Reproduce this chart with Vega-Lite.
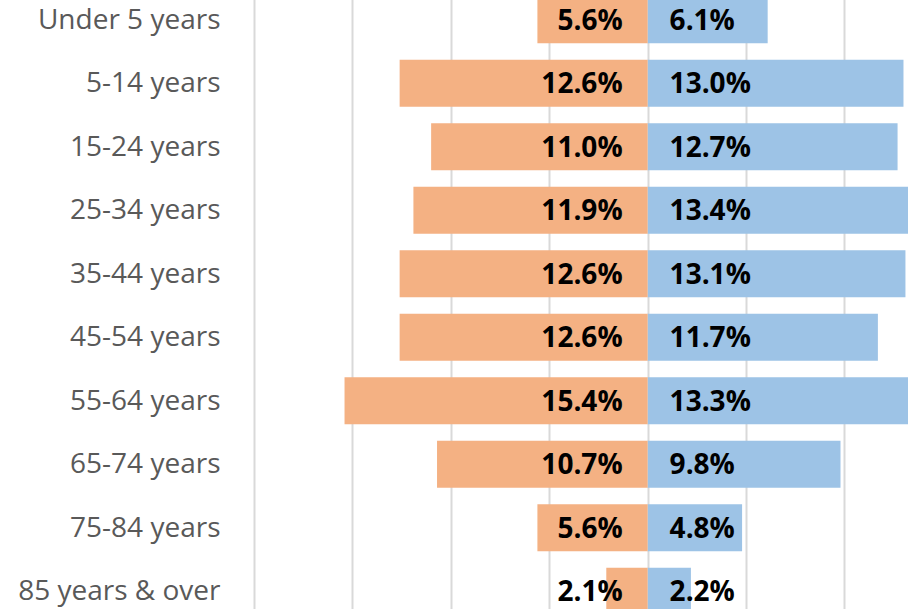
{
  "$schema": "https://vega.github.io/schema/vega-lite/v6.json",
  "width": 654,
  "height": 635,
  "autosize": {"type": "none"},
  "padding": {"left": 254, "top": -12, "right": 0, "bottom": -14},
  "background": "white",
  "config": {"view": {"stroke": null}},
  "data": {
    "values": [
      {"age": "Under 5 years", "female": 0.056, "male": 0.061},
      {"age": "5-14 years", "female": 0.126, "male": 0.130},
      {"age": "15-24 years", "female": 0.110, "male": 0.127},
      {"age": "25-34 years", "female": 0.119, "male": 0.134},
      {"age": "35-44 years", "female": 0.126, "male": 0.131},
      {"age": "45-54 years", "female": 0.126, "male": 0.117},
      {"age": "55-64 years", "female": 0.154, "male": 0.133},
      {"age": "65-74 years", "female": 0.107, "male": 0.098},
      {"age": "75-84 years", "female": 0.056, "male": 0.048},
      {"age": "85 years & over", "female": 0.021, "male": 0.022}
    ]
  },
  "encoding": {
    "y": {
      "field": "age",
      "type": "nominal",
      "sort": null,
      "scale": {"paddingInner": 0.26, "paddingOuter": 0.13},
      "axis": {
        "title": null,
        "domain": false,
        "ticks": false,
        "labelPadding": 34,
        "labelLimit": 0,
        "labelOffset": 1,
        "labelFont": "Open Sans",
        "labelFontSize": 28,
        "labelColor": "#595959",
        "labelAlign": "right",
        "labelBaseline": "middle"
      }
    }
  },
  "layer": [
    {
      "mark": {"type": "bar", "color": "#9DC3E6"},
      "encoding": {
        "x": {
          "field": "male",
          "type": "quantitative",
          "scale": {"domain": [-0.2, 0.1323], "nice": false},
          "axis": {
            "title": null,
            "values": [-0.2, -0.15, -0.1, -0.05, 0, 0.05, 0.1],
            "labels": false,
            "ticks": false,
            "domain": false,
            "grid": true,
            "gridColor": "#d9d9d9",
            "gridWidth": 2
          }
        }
      }
    },
    {
      "mark": {"type": "bar", "color": "#F4B183"},
      "encoding": {
        "x": {
          "field": "female",
          "type": "quantitative",
          "scale": {"domain": [-0.1323, 0.2], "reverse": true, "nice": false},
          "axis": null
        }
      }
    },
    {
      "mark": {"type": "rule", "color": "#d9d9d9", "strokeWidth": 2.5},
      "encoding": {
        "x": {"datum": 0, "type": "quantitative", "scale": {"domain": [-0.2, 0.1323], "nice": false}, "axis": null}
      }
    },
    {
      "mark": {"type": "text", "align": "right", "baseline": "middle", "dx": -25, "dy": 2, "font": "Open Sans", "fontSize": 28, "fontWeight": "bold", "color": "#000000"},
      "encoding": {
        "x": {"datum": 0, "type": "quantitative", "scale": {"domain": [-0.2, 0.1323], "nice": false}, "axis": null},
        "text": {"field": "female", "type": "quantitative", "format": ".1%"}
      }
    },
    {
      "mark": {"type": "text", "align": "left", "baseline": "middle", "dx": 22, "dy": 2, "font": "Open Sans", "fontSize": 28, "fontWeight": "bold", "color": "#000000"},
      "encoding": {
        "x": {"datum": 0, "type": "quantitative", "scale": {"domain": [-0.2, 0.1323], "nice": false}, "axis": null},
        "text": {"field": "male", "type": "quantitative", "format": ".1%"}
      }
    }
  ],
  "resolve": {"scale": {"x": "independent"}}
}
